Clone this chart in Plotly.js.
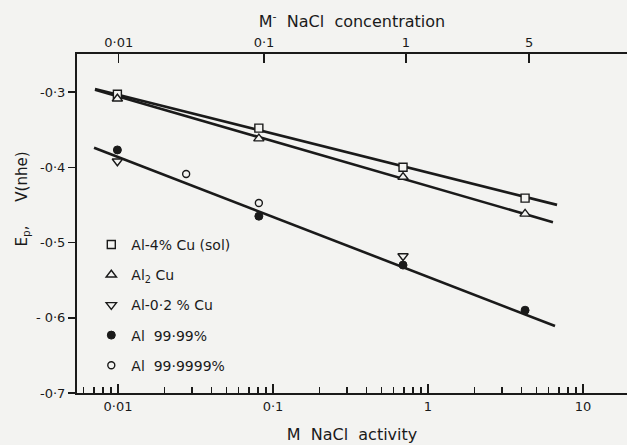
<!DOCTYPE html>
<html>
<head>
<meta charset="utf-8">
<script src="https://cdn.plot.ly/plotly-3.0.1.min.js"></script>
<style>html,body{margin:0;padding:0;background:#f3f3f1;}#chart{width:627px;height:445px;}</style>
</head>
<body>
<div id="chart"></div>
<script>
// NaCl activity (bottom axis) values and potentials E_p (V nhe)
const xSq = [0.0099, 0.081, 0.69, 4.23];
const ySq = [-0.303, -0.348, -0.400, -0.441];
const xTriUp = [0.0099, 0.081, 0.69, 4.23];
const yTriUp = [-0.309, -0.362, -0.413, -0.462];
const xTriDn = [0.0099, 0.69];
const yTriDn = [-0.392, -0.518];
const xDot = [0.0099, 0.081, 0.69, 4.23];
const yDot = [-0.377, -0.465, -0.530, -0.590];
const xCirc = [0.0275, 0.081];
const yCirc = [-0.409, -0.4475];

// fitted lines
const fit1X = [0.0071, 6.8];
const fit1Y = [-0.296, -0.450];
const fit2X = [0.0071, 6.4];
const fit2Y = [-0.297, -0.473];
const fit3X = [0.0070, 6.6];
const fit3Y = [-0.374, -0.611];

// axis ticks
const actTickVals = [0.01, 0.1, 1, 10];
const actTickText = ['0·01', '0·1', '1', '10'];
const concTickActivity = [0.0101, 0.0875, 0.721, 4.49];
const concTickText = ['0·01', '0·1', '1', '5'];
const yTickVals = [-0.3, -0.4, -0.5, -0.6, -0.7];
const yTickText = ['-0·3', '-0·4', '-0·5', '- 0·6', '-0·7'];

const names = ['Al-4% Cu (sol)', 'Al<sub>2</sub> Cu', 'Al-0·2 % Cu', 'Al  99·99%', 'Al  99·9999%'];

const minorVals = [];
for (let e = -3; e <= 1; e++) {
  for (let d = 2; d <= 9; d++) minorVals.push(d * Math.pow(10, e));
}

const ink = '#1a1a1a';
const BG = '#f3f3f1';
const FONT = 'DejaVu Sans, sans-serif';
const lineStyle = {color: ink, width: 2.6};

const traces = [
  {x: fit1X, y: fit1Y, mode: 'lines', line: lineStyle, showlegend: false, hoverinfo: 'skip'},
  {x: fit2X, y: fit2Y, mode: 'lines', line: lineStyle, showlegend: false, hoverinfo: 'skip'},
  {x: fit3X, y: fit3Y, mode: 'lines', line: lineStyle, showlegend: false, hoverinfo: 'skip'},
  {x: xSq, y: ySq, name: names[0], mode: 'markers', legendgroup: 'a',
   marker: {symbol: 'square', size: 8, color: BG, line: {color: ink, width: 1.4}}},
  {x: xTriUp, y: yTriUp, name: names[1], mode: 'markers', legendgroup: 'b',
   marker: {symbol: 'triangle-up', size: 9, color: BG, line: {color: ink, width: 1.4}}},
  {x: xTriDn, y: yTriDn, name: names[2], mode: 'markers', legendgroup: 'c',
   marker: {symbol: 'triangle-down', size: 9, color: BG, line: {color: ink, width: 1.4}}},
  {x: xDot, y: yDot, name: names[3], mode: 'markers', legendgroup: 'd',
   marker: {symbol: 'circle', size: 8, color: ink, line: {color: ink, width: 1}}},
  {x: xCirc, y: yCirc, name: names[4], mode: 'markers', legendgroup: 'e',
   marker: {symbol: 'circle', size: 7, color: BG, line: {color: ink, width: 1.4}}},
  {x: [fit1X[0]], y: [fit1Y[0]], xaxis: 'x2', mode: 'markers', opacity: 0,
   showlegend: false, hoverinfo: 'skip'}
];

const layout = {
  width: 627, height: 445,
  margin: {l: 77, r: 0, t: 54, b: 52, pad: 0},
  paper_bgcolor: BG, plot_bgcolor: BG,
  font: {family: FONT, color: ink, size: 13},
  showlegend: true,
  legend: {x: 0.026, y: 0.484, xanchor: 'left', yanchor: 'top', bgcolor: 'rgba(0,0,0,0)',
           font: {family: FONT, size: 14, color: ink}, traceorder: 'grouped',
           tracegroupgap: 9, itemsizing: 'trace', itemwidth: 30},
  xaxis: {type: 'log', range: [-2.265, 1.284], showgrid: false, zeroline: false,
          showline: true, linecolor: ink, linewidth: 2, mirror: false,
          ticks: 'inside', ticklen: 9, tickwidth: 1.5, tickcolor: ink,
          tickmode: 'array', tickvals: actTickVals, ticktext: actTickText,
          tickfont: {size: 13},
          minor: {tickmode: 'array', tickvals: minorVals, ticks: 'inside', ticklen: 6,
                  tickwidth: 1.3, tickcolor: ink, showgrid: false},
          title: {text: 'M  NaCl  activity', font: {size: 16}, standoff: 16}},
  xaxis2: {type: 'log', range: [-2.265, 1.284], overlaying: 'x', side: 'top',
           showgrid: false, zeroline: false, showline: true, linecolor: ink, linewidth: 2,
           ticks: 'inside', ticklen: 9, tickwidth: 1.5, tickcolor: ink,
           tickmode: 'array', tickvals: concTickActivity, ticktext: concTickText,
           tickfont: {size: 13},
           title: {text: 'M<sup>-</sup>  NaCl  concentration', font: {size: 16}, standoff: 3}},
  yaxis: {range: [-0.7, -0.2495], showgrid: false, zeroline: false,
          showline: true, linecolor: ink, linewidth: 2, mirror: false,
          ticks: 'outside', ticklen: 7, tickwidth: 1.5, tickcolor: ink,
          tickmode: 'array', tickvals: yTickVals, ticktext: yTickText,
          tickfont: {size: 13}},
  annotations: [{
    text: 'E<sub>p</sub>,     V(nhe)', textangle: -90, xref: 'paper', yref: 'paper',
    x: -0.1, y: 0.571, xanchor: 'center', yanchor: 'middle', showarrow: false,
    font: {family: FONT, size: 15, color: ink}
  }]
};

Plotly.newPlot('chart', traces, layout, {displayModeBar: false, staticPlot: true});
</script>
</body>
</html>
